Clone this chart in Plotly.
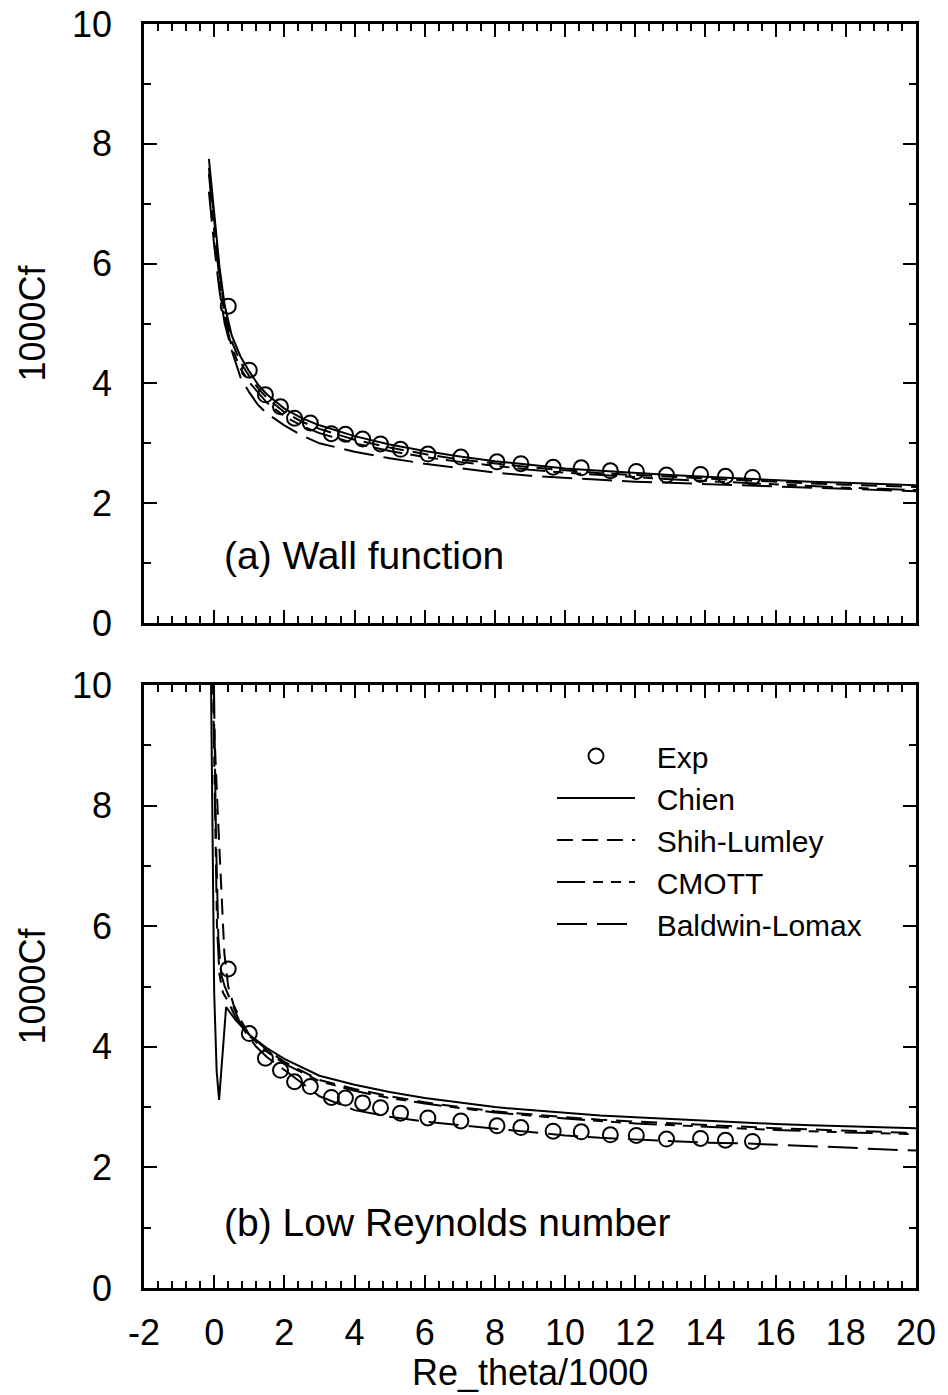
import plotly.graph_objects as go

# ---------------- data ----------------
exp_x = [0.40, 1.00, 1.46, 1.89, 2.29, 2.74, 3.34, 3.74, 4.23, 4.74, 5.31, 6.09, 7.03,
         8.06, 8.74, 9.66, 10.46, 11.29, 12.03, 12.89, 13.86, 14.57, 15.34]
exp_y = [5.29, 4.22, 3.81, 3.61, 3.42, 3.34, 3.16, 3.15, 3.07, 2.99, 2.90, 2.82, 2.77,
         2.69, 2.66, 2.60, 2.59, 2.54, 2.53, 2.47, 2.48, 2.45, 2.43]

# (a) wall function
a_x = [-0.15, 0.0, 0.15, 0.3, 0.5, 0.75, 1.0, 1.25, 1.5, 2.0, 2.5, 3.0, 4.0, 5.0, 6.0,
       7.0, 8.0, 9.0, 10.0, 11.0, 12.0, 13.0, 14.0, 15.0, 16.0, 17.0, 18.0, 19.0, 20.0]
a_chien = [7.75, 6.85, 5.95, 5.30, 4.80, 4.45, 4.20, 3.98, 3.82, 3.58, 3.42, 3.30, 3.12, 2.98, 2.87,
           2.78, 2.70, 2.64, 2.58, 2.54, 2.50, 2.47, 2.44, 2.41, 2.39, 2.36, 2.34, 2.32, 2.30]
a_shih = [7.6, 6.70, 5.85, 5.20, 4.70, 4.35, 4.12, 3.92, 3.76, 3.52, 3.36, 3.24, 3.06, 2.93, 2.82,
          2.73, 2.66, 2.60, 2.55, 2.50, 2.47, 2.44, 2.41, 2.38, 2.35, 2.33, 2.31, 2.29, 2.27]
a_cmott = [7.5, 6.55, 5.75, 5.10, 4.60, 4.25, 4.02, 3.84, 3.68, 3.45, 3.29, 3.17, 3.00, 2.87, 2.77,
           2.69, 2.62, 2.56, 2.51, 2.47, 2.43, 2.40, 2.37, 2.34, 2.31, 2.29, 2.26, 2.24, 2.22]
a_bl = [7.2, 6.30, 5.55, 5.00, 4.55, 4.10, 3.85, 3.64, 3.50, 3.30, 3.13, 3.00, 2.86, 2.75, 2.66,
        2.58, 2.51, 2.46, 2.42, 2.39, 2.36, 2.34, 2.32, 2.30, 2.28, 2.26, 2.24, 2.22, 2.20]

# (b) low Reynolds number
b_chien_x = [-0.10, 0.0, 0.07, 0.14, 0.34, 0.6, 1.0, 1.5, 2.0, 3.0, 4.0, 5.0, 6.0, 7.0, 8.0,
             9.0, 10.0, 11.0, 12.0, 13.0, 14.0, 15.0, 16.0, 17.0, 18.0, 19.0, 20.0]
b_chien_y = [10.6, 4.90, 3.60, 3.12, 4.66, 4.45, 4.20, 3.98, 3.80, 3.52, 3.37, 3.25, 3.15, 3.07, 3.00,
             2.95, 2.90, 2.86, 2.83, 2.80, 2.77, 2.74, 2.72, 2.70, 2.68, 2.66, 2.65]
b_shih_x = [-0.05, 0.0, 0.1, 0.2, 0.29, 0.4, 0.55, 0.75, 1.0, 1.5, 2.0, 3.0, 4.0, 5.0, 6.0, 7.0,
            8.0, 9.0, 10.0, 11.0, 12.0, 13.0, 14.0, 15.0, 16.0, 17.0, 18.0, 19.0, 20.0]
b_shih_y = [10.6, 9.30, 7.90, 6.60, 5.55, 5.00, 4.70, 4.45, 4.20, 3.95, 3.75, 3.45, 3.30, 3.18, 3.08, 3.00,
            2.93, 2.88, 2.83, 2.79, 2.76, 2.73, 2.70, 2.67, 2.65, 2.63, 2.61, 2.59, 2.57]
b_cmott_x = [-0.05, 0.02, 0.08, 0.15, 0.25, 0.4, 0.6, 1.0, 1.5, 2.0, 3.0, 4.0, 5.0, 6.0, 7.0,
             8.0, 9.0, 10.0, 12.0, 14.0, 16.0, 18.0, 20.0]
b_cmott_y = [10.6, 8.00, 6.00, 5.20, 4.90, 4.75, 4.50, 4.18, 3.92, 3.72, 3.43, 3.27, 3.15, 3.06, 2.98,
             2.91, 2.86, 2.81, 2.73, 2.67, 2.62, 2.58, 2.55]
b_bl_x = [-0.02, 0.05, 0.12, 0.2, 0.3, 0.45, 0.7, 0.9, 1.2, 1.5, 2.0, 2.5, 3.0, 4.0, 5.0, 6.0, 7.0,
          8.0, 9.0, 10.0, 11.0, 12.0, 13.0, 14.0, 15.0, 16.0, 17.0, 18.0, 19.0, 20.0]
b_bl_y = [10.6, 7.50, 5.80, 5.20, 5.00, 4.80, 4.45, 4.23, 4.00, 3.83, 3.62, 3.40, 3.18, 2.95, 2.84, 2.76, 2.70,
          2.64, 2.58, 2.53, 2.49, 2.46, 2.43, 2.41, 2.40, 2.38, 2.35, 2.33, 2.30, 2.28]

x_tickvals = [-2, 0, 2, 4, 6, 8, 10, 12, 14, 16, 18, 20]
x_ticktext = ["-2", "0", "2", "4", "6", "8", "10", "12", "14", "16", "18", "20"]

names = ["Chien", "Shih-Lumley", "CMOTT", "Baldwin-Lomax"]
dashes = ["solid", "16px,9px", "28px,8px,10px,8px,10px,8px", "30px,10px"]

FONT = "Liberation Sans, Arial, Helvetica, sans-serif"
NB = "\u00a0\u00a0"

fig = go.Figure()

# top panel curves
for nm, ys, ds in zip(names, [a_chien, a_shih, a_cmott, a_bl], dashes):
    fig.add_trace(go.Scatter(x=a_x, y=ys, mode="lines", name=nm, showlegend=False,
                             line=dict(color="black", width=2, dash=ds),
                             xaxis="x", yaxis="y"))
fig.add_trace(go.Scatter(x=exp_x, y=exp_y, mode="markers", name="Exp", showlegend=False,
                         marker=dict(symbol="circle-open", size=15, color="black",
                                     line=dict(width=2, color="black")),
                         xaxis="x", yaxis="y"))

# bottom panel
fig.add_trace(go.Scatter(x=exp_x, y=exp_y, mode="markers", name=NB + "Exp", showlegend=True,
                         marker=dict(symbol="circle-open", size=15, color="black",
                                     line=dict(width=2, color="black")),
                         xaxis="x2", yaxis="y2"))
for nm, xs, ys, ds in zip(names, [b_chien_x, b_shih_x, b_cmott_x, b_bl_x],
                          [b_chien_y, b_shih_y, b_cmott_y, b_bl_y], dashes):
    fig.add_trace(go.Scatter(x=xs, y=ys, mode="lines", name=NB + nm, showlegend=True,
                             line=dict(color="black", width=2, dash=ds),
                             xaxis="x2", yaxis="y2"))

common = dict(showline=True, linecolor="black", linewidth=2.5, mirror="ticks",
              ticks="inside", ticklen=13, tickwidth=2, tickcolor="black",
              showgrid=False, zeroline=False, automargin=False,
              tickfont=dict(family=FONT, size=36, color="black"))

xcommon = dict(common, range=[-2, 20], tickmode="array", tickvals=x_tickvals, ticktext=x_ticktext,
               minor=dict(dtick=0.4, tick0=-2, ticklen=7, tickwidth=1.5,
                          ticks="inside", tickcolor="black", showgrid=False))
ycommon = dict(common, range=[0, 10], tick0=0, dtick=2,
               minor=dict(dtick=1, tick0=0, ticklen=7, tickwidth=1.5,
                          ticks="inside", tickcolor="black", showgrid=False),
               ticklabelstandoff=22)

H = 1395
top_px, bottom_px = 24, 1288
ph = bottom_px - top_px

def ydom(p_top, p_bot):
    return [(bottom_px - p_bot) / ph, (bottom_px - p_top) / ph]

fig.update_layout(
    width=948, height=H,
    margin=dict(l=144, r=32, t=top_px, b=H - bottom_px),
    paper_bgcolor="white", plot_bgcolor="white",
    font=dict(family=FONT, color="black"),
    xaxis=dict(xcommon, domain=[0, 1], anchor="y", showticklabels=False),
    yaxis=dict(ycommon, domain=ydom(24, 623), anchor="x",
               title=dict(text="1000Cf", font=dict(size=36, family=FONT), standoff=16)),
    xaxis2=dict(xcommon, domain=[0, 1], anchor="y2", ticklabelstandoff=11),
    yaxis2=dict(ycommon, domain=ydom(685, 1288), anchor="x2",
                title=dict(text="1000Cf", font=dict(size=36, family=FONT), standoff=16)),
    showlegend=True,
    legend=dict(x=(552 - 144) / 772, y=(bottom_px - 730) / ph, xanchor="left", yanchor="top",
                bgcolor="rgba(0,0,0,0)", font=dict(size=30, family=FONT, color="black"),
                itemwidth=78, tracegroupgap=0),
    annotations=[
        dict(text="(a) Wall function", xref="x domain", yref="y domain",
             x=(222 - 144) / 772, y=(623 - 555) / 599, xanchor="left", yanchor="middle",
             showarrow=False, font=dict(size=39, family=FONT, color="black")),
        dict(text="(b) Low Reynolds number", xref="x2 domain", yref="y2 domain",
             x=(222 - 144) / 772, y=(1288 - 1222) / 603, xanchor="left", yanchor="middle",
             showarrow=False, font=dict(size=39, family=FONT, color="black")),
        dict(text="Re_theta/1000", xref="paper", yref="paper",
             x=0.5, y=(bottom_px - 1372) / ph, xanchor="center", yanchor="middle",
             showarrow=False, font=dict(size=36, family=FONT, color="black")),
    ],
)

fig.write_html("out.html")
